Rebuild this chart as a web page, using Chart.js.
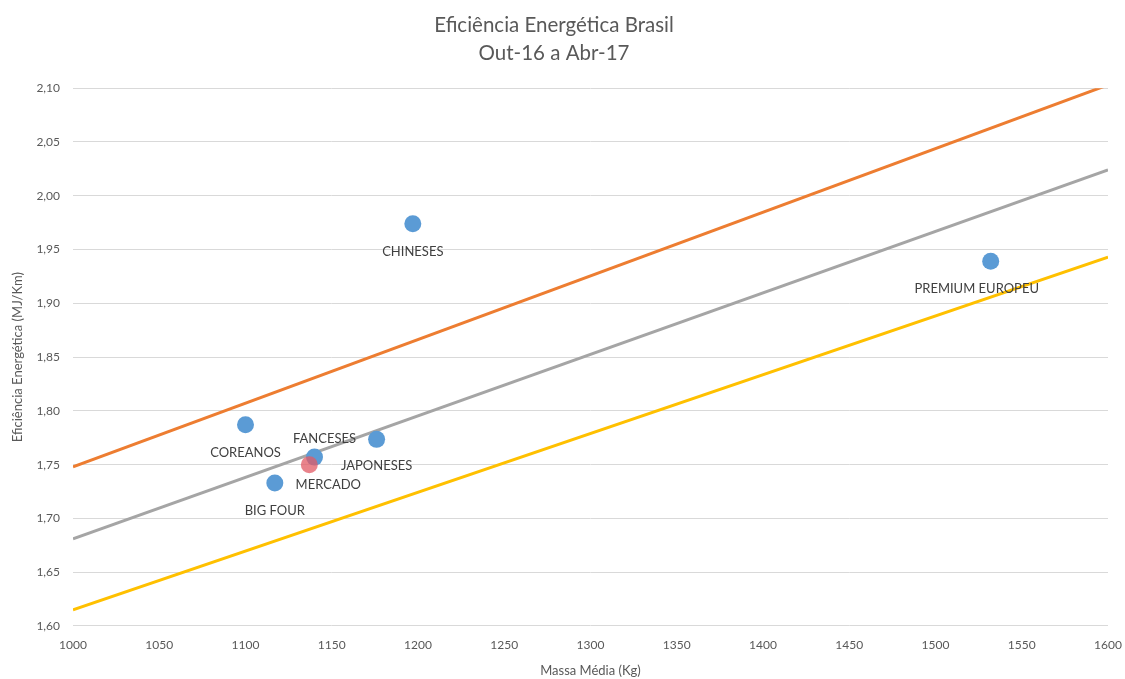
<!DOCTYPE html>
<html>
<head>
<meta charset="utf-8">
<script src="https://cdn.jsdelivr.net/npm/chart.js@4"></script>
<style>
  html, body { margin: 0; padding: 0; background: #fff; }
  #wrap { width: 1125px; height: 679px; }
</style>
</head>
<body>
<div id="wrap"><canvas id="c" width="1125" height="679"></canvas></div>
<script>
// Groups of manufacturers: average mass (kg) vs energy efficiency (MJ/km)
const groupNames = ['CHINESES', 'PREMIUM EUROPEU', 'COREANOS', 'FANCESES', 'JAPONESES', 'BIG FOUR'];
const groupMass = [1197, 1532, 1100, 1140, 1176, 1117];
const groupEff = [1.974, 1.939, 1.787, 1.757, 1.7735, 1.733];

// Overall market average
const marketName = 'MERCADO';
const marketMass = [1137];
const marketEff = [1.750];

// Reference lines (efficiency at 1000 kg and at 1600 kg)
const lineMass = [1000, 1600];
const upperLine = [1.748, 2.103];
const middleLine = [1.681, 2.024];
const lowerLine = [1.615, 1.943];

// Axis tick range
const xTicks = { min: 1000, max: 1600, step: 50 };
const yTicks = { min: 1.60, max: 2.10, step: 0.05 };

// Label offsets (px) relative to each point: [dx, dy]
const labelOffsets = {
  'CHINESES': [0, 28],
  'PREMIUM EUROPEU': [-14, 27],
  'COREANOS': [0, 28],
  'FANCESES': [10, -18],
  'JAPONESES': [0, 26],
  'BIG FOUR': [0, 28],
  'MERCADO': [19, 20]
};

const toXY = (xs, ys) => xs.map((x, i) => ({ x: x, y: ys[i] }));

const font = "Lato, 'Open Sans', 'Liberation Sans', sans-serif";

const pointLabels = {
  id: 'pointLabels',
  afterDatasetsDraw(chart) {
    const ctx = chart.ctx;
    ctx.save();
    ctx.font = '13px ' + font;
    ctx.fillStyle = '#404040';
    ctx.textAlign = 'center';
    ctx.textBaseline = 'middle';
    chart.data.datasets.forEach((ds, di) => {
      if (!ds.names) return;
      const meta = chart.getDatasetMeta(di);
      meta.data.forEach((el, i) => {
        const name = ds.names[i];
        const off = labelOffsets[name] || [0, 0];
        ctx.fillText(name, el.x + off[0], el.y + off[1]);
      });
    });
    ctx.restore();
  }
};

new Chart(document.getElementById('c'), {
  type: 'scatter',
  data: {
    datasets: [
      {
        label: 'Limite superior',
        data: toXY(lineMass, upperLine),
        showLine: true, borderColor: '#ED7D31', borderWidth: 3,
        pointRadius: 0, pointHoverRadius: 0, order: 3
      },
      {
        label: 'Tendência',
        data: toXY(lineMass, middleLine),
        showLine: true, borderColor: '#A5A5A5', borderWidth: 3,
        pointRadius: 0, pointHoverRadius: 0, order: 3
      },
      {
        label: 'Limite inferior',
        data: toXY(lineMass, lowerLine),
        showLine: true, borderColor: '#FFC000', borderWidth: 3,
        pointRadius: 0, pointHoverRadius: 0, order: 3
      },
      {
        label: 'Grupos',
        names: groupNames,
        data: toXY(groupMass, groupEff),
        backgroundColor: '#5B9BD5', borderColor: '#5B9BD5',
        pointRadius: 8.5, borderWidth: 0, order: 2
      },
      {
        label: 'Mercado',
        names: [marketName],
        data: toXY(marketMass, marketEff),
        backgroundColor: 'rgba(226, 90, 100, 0.75)', borderColor: 'rgba(226, 90, 100, 0.75)',
        pointRadius: 8.5, borderWidth: 0, order: 1
      }
    ]
  },
  options: {
    responsive: false,
    animation: false,
    layout: { padding: { left: 0, right: 17, top: 0, bottom: 0 } },
    plugins: {
      legend: { display: false },
      tooltip: { enabled: false },
      title: {
        display: true,
        text: ['Eficiência Energética Brasil', 'Out-16 a Abr-17'],
        color: '#595959',
        font: { family: font, size: 20.5, weight: 'normal', lineHeight: 1.37 },
        padding: { top: 11, bottom: 21 }
      }
    },
    scales: {
      x: {
        type: 'linear',
        min: xTicks.min, max: xTicks.max,
        afterFit(scale) { scale.height = 53; scale.paddingLeft = 0; scale.paddingRight = 0; },
        border: { display: false },
        grid: { display: false, drawTicks: false },
        ticks: {
          stepSize: xTicks.step,
          color: '#595959',
          padding: 12,
          maxRotation: 0,
          font: { family: font, size: 12 },
          callback: v => String(v)
        },
        title: {
          display: true,
          text: 'Massa Média (Kg)',
          color: '#595959',
          font: { family: font, size: 13 },
          padding: { top: 0, bottom: 0 }
        }
      },
      y: {
        type: 'linear',
        min: yTicks.min, max: yTicks.max,
        afterFit(scale) { scale.width = 73; scale.paddingTop = 0; scale.paddingBottom = 0; },
        border: { display: false },
        grid: { color: '#D9D9D9', lineWidth: 1, drawTicks: false },
        ticks: {
          stepSize: yTicks.step,
          color: '#595959',
          padding: 13,
          font: { family: font, size: 12 },
          callback: v => v.toFixed(2).replace('.', ',')
        },
        title: {
          display: true,
          text: 'Eficiência Energética (MJ/Km)',
          color: '#595959',
          font: { family: font, size: 13 },
          padding: { top: 10, bottom: 0 }
        }
      }
    }
  },
  plugins: [pointLabels]
});
</script>
</body>
</html>
